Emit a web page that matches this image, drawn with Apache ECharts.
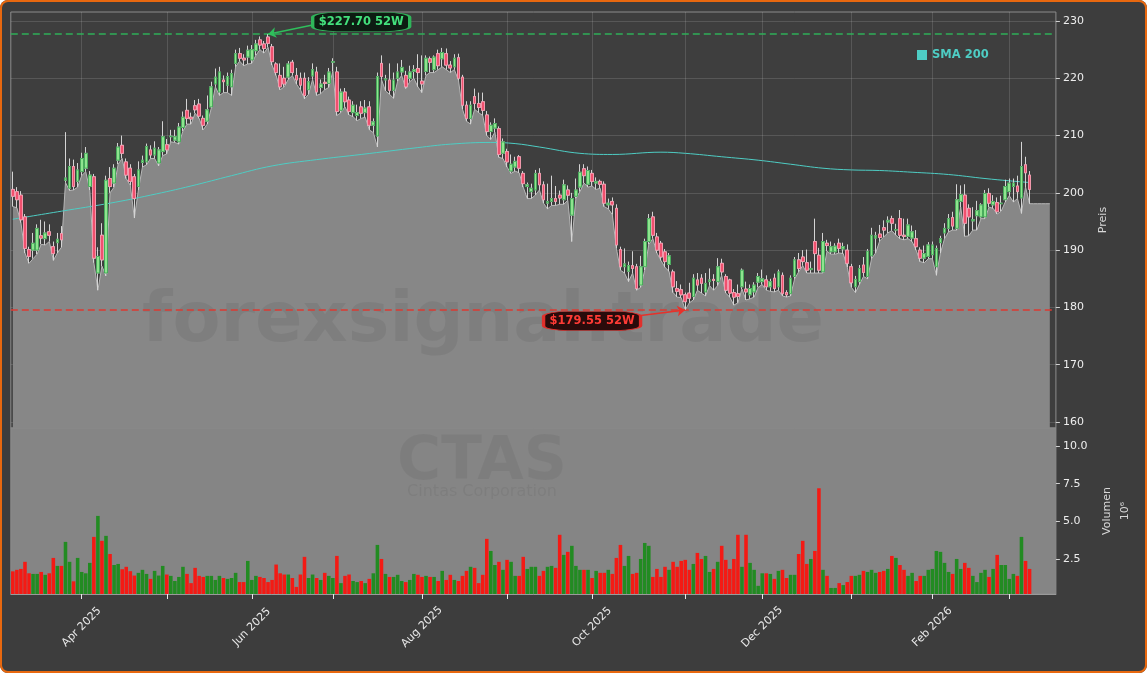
<!DOCTYPE html>
<html>
<head>
<meta charset="utf-8">
<title>CTAS</title>
<script src="https://cdn.jsdelivr.net/npm/echarts@6/dist/echarts.min.js"></script>
<style>
  html, body { margin: 0; padding: 0; background: #ffffff; }
  #wrap { position: relative; width: 1147px; height: 673px; }
  #chart { position: absolute; left: 0; top: 0; width: 1147px; height: 673px; border-radius: 8px; overflow: hidden; }
  #frame { position: absolute; left: 0; top: 0; width: 1147px; height: 673px; box-sizing: border-box;
           border: 2px solid #e8680f; border-radius: 8px; pointer-events: none; }
</style>
</head>
<body>
<div id="wrap">
  <div id="chart"></div>
  <div id="frame"></div>
</div>
<script>
// Kursdaten, ein Eintrag pro Handelstag ab 07.03.2025
const opens = [
  200.6, 200.2, 199.6, 195.8, 190.1, 190.0, 190.0, 192.5, 192.0, 193.2,
  190.6, 191.3, 192.9, 202.2, 200.8, 204.6, 202.0, 203.7, 204.3, 201.1,
  202.8, 186.0, 192.6, 186.0, 202.5, 201.7, 205.7, 208.3, 205.4, 204.3,
  202.8, 201.1, 205.3, 205.4, 207.5, 206.6, 205.2, 207.2, 208.4, 209.8,
  209.2, 208.9, 211.4, 214.4, 213.2, 215.2, 215.5, 213.0, 212.5, 215.0,
  219.0, 217.6, 219.7, 218.8, 218.5, 222.6, 224.3, 223.5, 223.7, 223.2,
  224.8, 226.7, 226.0, 227.2, 225.5, 222.5, 220.5, 220.0, 220.2, 222.8,
  220.5, 220.0, 220.0, 218.0, 220.4, 221.1, 218.4, 219.3, 219.1, 222.8,
  221.1, 214.4, 217.6, 216.2, 214.0, 213.5, 215.0, 214.0, 215.0, 211.8,
  209.9, 222.6, 219.7, 219.7, 217.9, 220.0, 221.1, 220.5, 220.0, 221.2,
  221.7, 219.5, 221.2, 223.4, 221.5, 224.3, 223.4, 224.3, 222.3, 222.0,
  223.6, 220.2, 215.3, 213.0, 216.8, 215.6, 215.9, 213.6, 210.7, 211.3,
  211.2, 206.9, 207.2, 203.8, 204.5, 206.3, 203.4, 201.1, 200.2, 200.5,
  203.4, 201.4, 198.2, 198.5, 199.0, 199.6, 198.8, 200.5, 196.1, 199.4,
  201.0, 204.2, 201.5, 203.4, 201.7, 202.0, 201.5, 197.9, 198.5, 197.3,
  190.1, 187.1, 186.3, 187.3, 187.1, 183.9, 187.1, 191.5, 195.8, 192.3,
  191.2, 189.7, 187.5, 186.2, 183.3, 183.1, 182.2, 182.5, 181.9, 184.8,
  185.1, 182.7, 184.5, 184.9, 184.5, 187.7, 185.4, 184.8, 182.6, 182.4,
  183.6, 183.2, 182.2, 182.7, 184.4, 184.5, 184.8, 183.6, 185.1, 183.6,
  185.6, 182.6, 182.4, 185.4, 188.3, 188.8, 187.8, 186.6, 191.5, 189.1,
  186.2, 191.2, 189.7, 189.7, 191.2, 190.2, 190.0, 187.1, 183.6, 184.5,
  187.4, 185.4, 189.0, 192.1, 192.8, 193.9, 194.9, 195.5, 193.5, 195.5,
  192.6, 192.4, 192.1, 192.0, 190.0, 188.6, 188.9, 189.2, 187.1, 191.3,
  193.0, 193.8, 195.7, 193.8, 198.5, 199.6, 197.3, 195.1, 196.0, 195.8,
  195.8, 199.9, 197.9, 198.3, 198.1, 198.8, 200.2, 201.1, 201.2, 199.1,
  204.9, 203.1
];
const closes = [
  199.4, 198.8, 195.3, 190.3, 188.9, 191.2, 193.8, 192.1, 193.0, 192.6,
  189.4, 191.9, 191.8, 202.6, 204.6, 201.1, 204.0, 206.0, 206.9, 203.1,
  188.6, 188.9, 188.3, 202.2, 201.1, 204.3, 208.0, 206.9, 203.1, 202.0,
  199.0, 204.0, 205.7, 208.1, 206.6, 207.8, 207.5, 209.8, 207.5, 209.9,
  209.8, 211.5, 213.2, 213.0, 212.9, 214.5, 213.4, 211.8, 214.5, 218.5,
  220.2, 221.1, 219.4, 220.3, 220.8, 224.3, 223.5, 223.2, 224.9, 225.0,
  226.0, 225.8, 225.2, 226.1, 222.9, 221.0, 218.5, 219.0, 222.5, 221.0,
  219.7, 218.8, 217.0, 219.4, 221.5, 217.6, 219.0, 219.1, 221.1, 222.9,
  214.2, 217.6, 215.9, 214.2, 215.3, 214.0, 213.9, 214.8, 211.8, 212.4,
  220.3, 220.3, 219.9, 217.9, 219.7, 221.1, 221.9, 218.5, 221.1, 221.5,
  221.0, 219.0, 223.5, 222.8, 223.7, 222.2, 224.5, 222.3, 221.8, 223.5,
  220.0, 215.3, 213.0, 215.3, 215.6, 214.9, 214.4, 210.7, 211.8, 212.1,
  206.7, 208.9, 205.4, 205.0, 205.5, 204.3, 201.6, 201.4, 200.8, 203.4,
  201.4, 198.8, 198.5, 199.0, 198.5, 199.1, 201.4, 199.6, 199.0, 200.5,
  203.6, 203.0, 203.9, 202.0, 202.0, 201.5, 198.2, 198.2, 197.9, 190.9,
  187.1, 187.6, 187.3, 186.8, 183.3, 187.1, 191.5, 195.5, 192.6, 190.0,
  188.8, 188.0, 189.0, 183.6, 182.8, 182.2, 181.0, 181.6, 185.1, 183.9,
  184.2, 184.2, 184.8, 184.7, 187.1, 186.2, 183.0, 182.5, 181.8, 181.9,
  186.5, 182.7, 183.3, 183.9, 185.4, 185.0, 183.6, 184.5, 183.3, 186.2,
  182.4, 182.2, 185.1, 188.3, 186.8, 188.0, 186.5, 186.8, 189.4, 186.5,
  191.5, 190.8, 190.6, 190.7, 190.3, 190.6, 187.7, 184.3, 184.9, 186.8,
  186.1, 189.8, 192.6, 192.5, 192.2, 193.5, 195.2, 194.7, 193.6, 192.6,
  192.4, 194.4, 193.2, 190.6, 188.6, 189.4, 190.9, 190.9, 190.3, 192.0,
  193.8, 195.5, 194.2, 198.8, 199.7, 194.7, 195.8, 195.3, 196.9, 197.9,
  199.9, 198.2, 198.5, 196.7, 198.2, 201.1, 201.7, 201.7, 200.2, 204.6,
  203.5, 200.6
];
const highs = [
  203.7, 201.0, 200.3, 196.3, 190.6, 193.0, 194.5, 195.3, 195.0, 194.5,
  191.5, 193.0, 194.2, 210.6, 206.0, 205.8, 205.2, 207.0, 208.0, 203.8,
  203.3, 190.5, 194.7, 203.0, 204.5, 205.0, 208.7, 210.0, 206.0, 205.0,
  203.3, 205.5, 206.5, 208.6, 208.3, 209.0, 208.0, 212.5, 209.4, 211.0,
  211.0, 212.2, 214.2, 216.4, 214.0, 216.2, 216.4, 213.5, 217.0, 219.4,
  221.7, 222.0, 220.5, 221.0, 221.5, 225.0, 225.3, 224.2, 225.7, 225.8,
  226.7, 227.3, 226.5, 227.7, 226.0, 222.8, 222.6, 222.0, 223.0, 223.2,
  221.8, 221.0, 221.0, 220.2, 222.6, 222.0, 219.8, 220.6, 221.8, 223.5,
  222.0, 218.2, 218.3, 216.8, 216.0, 215.4, 216.0, 216.2, 216.0, 213.0,
  221.0, 224.0, 220.6, 222.6, 221.0, 222.6, 223.2, 221.3, 222.2, 222.3,
  224.2, 224.0, 224.0, 223.8, 224.0, 225.0, 225.3, 225.2, 223.0, 224.2,
  224.3, 220.6, 216.0, 216.0, 218.2, 217.5, 217.5, 214.3, 212.3, 213.0,
  211.6, 209.5, 207.7, 206.7, 206.3, 206.6, 203.8, 201.8, 201.6, 204.0,
  204.3, 202.0, 201.6, 203.0, 201.2, 200.4, 202.3, 201.3, 200.0, 202.5,
  205.0, 205.0, 204.6, 204.0, 202.7, 202.3, 202.0, 199.0, 199.2, 198.0,
  190.6, 190.3, 188.0, 189.8, 187.6, 189.0, 192.0, 196.3, 196.7, 193.0,
  191.6, 190.2, 189.5, 186.6, 184.6, 184.0, 182.6, 184.3, 185.8, 186.0,
  185.8, 186.0, 186.8, 185.8, 188.6, 188.5, 185.8, 185.0, 183.2, 184.0,
  186.8, 184.5, 184.0, 184.4, 186.0, 186.6, 185.6, 185.0, 185.9, 186.6,
  186.1, 183.0, 185.6, 188.8, 189.5, 190.0, 190.1, 188.0, 195.5, 190.4,
  193.0, 191.8, 191.5, 191.2, 192.0, 191.3, 191.0, 187.6, 185.5, 187.4,
  188.8, 190.2, 193.9, 193.2, 194.4, 195.2, 195.9, 196.0, 194.6, 197.0,
  195.5, 195.5, 194.3, 193.5, 190.5, 190.8, 191.4, 191.5, 190.8, 192.5,
  194.7, 196.3, 196.7, 201.5, 201.3, 201.5, 198.0, 197.5, 198.6, 198.2,
  200.5, 200.8, 199.6, 199.2, 199.5, 202.3, 202.5, 202.5, 203.0, 208.9,
  206.3, 203.8
];
const lows = [
  197.6, 197.4, 194.8, 189.5, 187.7, 188.5, 189.3, 191.0, 190.9, 191.5,
  188.2, 189.5, 190.5, 201.8, 200.4, 200.5, 201.0, 203.0, 203.7, 200.5,
  187.8, 183.0, 187.2, 185.5, 200.0, 201.0, 205.0, 206.0, 202.5, 201.3,
  195.6, 200.5, 204.5, 204.9, 206.0, 206.0, 204.7, 206.5, 206.8, 208.9,
  208.8, 208.5, 210.8, 212.0, 212.0, 213.9, 213.0, 211.0, 212.0, 214.8,
  218.5, 217.0, 217.5, 217.5, 217.0, 222.0, 223.0, 222.2, 222.5, 222.6,
  224.0, 225.0, 224.4, 225.4, 222.3, 220.5, 218.0, 218.5, 219.8, 220.5,
  219.0, 218.0, 216.4, 217.2, 219.8, 217.0, 217.3, 218.0, 218.4, 221.2,
  213.5, 214.0, 215.0, 213.6, 213.3, 212.6, 213.0, 213.2, 211.0, 210.5,
  208.0, 219.8, 217.8, 217.2, 216.5, 219.5, 220.5, 218.2, 219.4, 220.0,
  218.5, 217.5, 220.5, 221.0, 221.0, 221.5, 222.0, 221.5, 221.0, 221.5,
  219.7, 214.6, 212.5, 212.0, 214.6, 214.0, 213.5, 210.0, 209.3, 210.6,
  206.2, 206.0, 204.5, 203.4, 203.8, 203.5, 201.0, 199.0, 199.0, 199.6,
  200.5, 198.2, 197.2, 197.8, 197.8, 198.0, 198.0, 198.7, 191.5, 199.0,
  200.2, 201.7, 201.0, 201.2, 200.6, 200.8, 197.6, 197.2, 196.2, 190.3,
  186.5, 186.0, 184.5, 186.0, 183.0, 183.5, 186.5, 191.0, 192.0, 189.5,
  188.2, 187.0, 186.3, 182.6, 181.8, 181.7, 179.55, 180.8, 181.3, 183.0,
  182.5, 182.0, 183.8, 183.0, 183.8, 185.6, 182.5, 181.8, 180.4, 180.8,
  183.2, 181.3, 181.5, 181.8, 183.5, 184.0, 183.0, 182.8, 182.7, 183.0,
  182.0, 181.8, 182.0, 185.0, 186.2, 187.3, 186.0, 186.0, 186.0, 186.0,
  186.0, 189.8, 189.3, 189.3, 189.5, 189.4, 187.0, 183.5, 182.6, 184.0,
  185.4, 185.0, 188.5, 189.5, 191.6, 192.3, 193.0, 193.4, 192.6, 192.0,
  191.8, 192.0, 191.5, 190.0, 188.0, 187.8, 188.5, 188.5, 185.6, 189.5,
  192.0, 193.2, 193.5, 193.5, 197.5, 192.4, 192.5, 193.5, 193.5, 195.5,
  195.5, 197.5, 197.3, 196.3, 196.8, 198.4, 199.5, 198.4, 199.0, 196.4,
  201.0, 198.1
];
// Volumen in Mio. Stück
const volumes = [
  1.70, 1.80, 1.86, 2.33, 1.57, 1.53, 1.53, 1.66, 1.47, 1.57,
  2.59, 2.06, 2.06, 3.65, 2.33, 1.04, 2.59, 1.66, 1.57, 2.26,
  3.98, 5.37, 3.72, 4.05, 2.85, 2.12, 2.19, 1.84, 2.00, 1.71,
  1.42, 1.60, 1.80, 1.53, 1.20, 1.73, 1.42, 2.06, 1.49, 1.40,
  1.06, 1.33, 2.00, 1.53, 0.92, 1.93, 1.40, 1.33, 1.40, 1.40,
  1.13, 1.40, 1.26, 1.20, 1.26, 1.60, 0.99, 0.99, 2.39, 1.13,
  1.40, 1.33, 1.26, 0.99, 1.13, 2.15, 1.57, 1.49, 1.49, 1.26,
  0.67, 1.49, 2.66, 1.26, 1.49, 1.26, 1.13, 1.60, 1.40, 1.26,
  2.72, 0.92, 1.40, 1.49, 1.06, 0.99, 1.06, 0.92, 1.20, 1.57,
  3.45, 2.52, 1.53, 1.33, 1.33, 1.47, 1.06, 0.99, 1.13, 1.53,
  1.47, 1.33, 1.40, 1.33, 1.33, 1.06, 1.73, 1.13, 1.47, 1.13,
  1.06, 1.40, 1.73, 2.00, 1.93, 0.92, 1.47, 3.85, 3.05, 2.12,
  2.33, 1.80, 2.46, 2.33, 1.40, 1.40, 2.66, 1.86, 2.00, 2.00,
  1.40, 1.73, 2.00, 2.06, 1.93, 4.12, 2.79, 2.99, 3.39, 2.06,
  1.80, 1.80, 1.80, 1.26, 1.73, 1.60, 1.60, 1.80, 1.53, 2.59,
  3.45, 2.06, 2.72, 1.53, 1.60, 2.52, 3.58, 3.39, 1.33, 1.86,
  1.33, 2.00, 1.80, 2.33, 2.00, 2.39, 2.46, 1.80, 2.19, 2.92,
  2.52, 2.72, 1.66, 1.86, 2.33, 3.39, 2.46, 1.86, 2.52, 4.12,
  2.00, 4.12, 2.26, 1.80, 0.74, 1.57, 1.57, 1.53, 1.20, 1.73,
  1.80, 1.26, 1.47, 1.47, 2.85, 3.72, 2.19, 2.52, 3.05, 7.20,
  1.80, 1.40, 0.60, 0.60, 0.92, 0.79, 0.99, 1.40, 1.40, 1.47,
  1.73, 1.66, 1.80, 1.60, 1.66, 1.73, 1.86, 2.72, 2.59, 2.12,
  1.80, 1.40, 1.60, 1.06, 1.40, 1.40, 1.80, 1.86, 3.05, 2.99,
  2.26, 1.66, 1.53, 2.52, 1.86, 2.26, 1.93, 1.40, 0.99, 1.60,
  1.80, 1.33, 1.86, 2.79, 2.12, 2.12, 1.20, 1.53, 1.40, 3.98,
  2.39, 1.86
];
// Flaechenlinie laeuft nach dem letzten Kerzentag noch ein Stueck weiter
const tailLows = [198.1, 198.1, 198.1, 198.1, 198.1];
// SMA 200: [Handelstag-Index, Wert]
const smaPoints = [
  [0, 195.4], [12, 196.8], [24, 198.2], [34, 199.6], [44, 201.2], [54, 203.0],
  [64, 204.7], [75, 205.8], [86, 206.7], [100, 207.9], [108, 208.5], [118, 208.8],
  [124, 208.6], [130, 208.0], [140, 206.9], [148, 206.7], [160, 207.1], [166, 206.9],
  [175, 206.3], [184, 205.7], [192, 205.0], [200, 204.3], [207, 204.0], [214, 203.9],
  [222, 203.6], [231, 203.2], [240, 202.5], [246, 202.1], [251, 201.8]
];
const high52 = 227.70;
const low52 = 179.55;
const priceTicks = [160, 170, 180, 190, 200, 210, 220, 230];
const volumeTicks = [2.5, 5.0, 7.5, 10.0];
const firstDay = '2025-03-07';
const holidays = ['2025-04-18', '2025-05-26', '2025-06-19', '2025-07-04', '2025-09-01',
                  '2025-11-27', '2025-12-25', '2026-01-01', '2026-01-19', '2026-02-16'];
const monthNames = ['Jan', 'Feb', 'Mar', 'Apr', 'May', 'Jun', 'Jul', 'Aug', 'Sep', 'Oct', 'Nov', 'Dec'];
const padSlots = ['p1', 'p2', 'p3', 'p4', 'p5', 'p6'];

// Farben
const wickColor = '#d4d4d4';
const upFill = '#8fe48f', upEdge = '#2e9e46';
const downFill = '#f0506e', downEdge = '#f59aae';
const volUp = '#228b22', volDown = '#f41a14';
const smaColor = '#4ecdc4';
const font = '"DejaVu Sans", sans-serif';

// Handelstage (Wochenende + Feiertage ausgelassen)
const dates = [];
const day = new Date(firstDay + 'T00:00:00Z');
while (dates.length < closes.length) {
  const iso = day.toISOString().slice(0, 10);
  const wd = day.getUTCDay();
  if (wd !== 0 && wd !== 6 && !holidays.includes(iso)) dates.push(iso);
  day.setUTCDate(day.getUTCDate() + 1);
}
const categories = dates.concat(padSlots);

function isMonthStart(i) {
  return i > 0 && i < dates.length && dates[i].slice(0, 7) !== dates[i - 1].slice(0, 7);
}
function isLabelMonth(i) {
  return isMonthStart(i) && Number(dates[i].slice(5, 7)) % 2 === 0;
}
const monthStarts = dates.filter((d, i) => isMonthStart(i));

const candles = opens.map((o, i) => [o, closes[i], lows[i], highs[i]]);
const bodies = opens.map((o, i) => [o, closes[i], Math.min(o, closes[i]), Math.max(o, closes[i])]);
const volumeBars = volumes.map((v, i) => ({
  value: v,
  itemStyle: { color: closes[i] >= opens[i] ? volUp : volDown }
}));

const hiIdx = highs.indexOf(Math.max(...highs));
const loIdx = lows.indexOf(Math.min(...lows));

const gridLine = { color: 'rgba(255,255,255,0.13)', width: 1, type: 'solid' };

const option = {
  animation: false,
  backgroundColor: '#3d3d3d',
  textStyle: { fontFamily: font },
  grid: [
    { left: 10.8, top: 12, width: 1045.1, height: 416, show: true,
      backgroundColor: '#3e3e3e', borderColor: '#8c8c8c', borderWidth: 1 },
    { left: 10.8, top: 428, width: 1045.1, height: 166, show: true,
      backgroundColor: '#858585', borderColor: '#8c8c8c', borderWidth: 1 }
  ],
  legend: {
    data: ['SMA 200'], left: 912, top: 44, icon: 'rect', itemWidth: 10, itemHeight: 10,
    itemGap: 5, selectedMode: false,
    textStyle: { color: smaColor, fontWeight: 'bold', fontSize: 11.5, fontFamily: font }
  },
  xAxis: [
    { type: 'category', gridIndex: 0, data: categories, boundaryGap: true,
      axisLine: { show: false }, axisTick: { show: false }, axisLabel: { show: false },
      splitLine: { show: false } },
    { type: 'category', gridIndex: 1, data: categories, boundaryGap: true,
      axisLine: { show: true, lineStyle: { color: '#9a9a9a' } },
      axisTick: { show: true, alignWithLabel: true, interval: (i) => isMonthStart(i), length: 5,
                  lineStyle: { color: '#e8e8e8' } },
      axisLabel: {
        interval: (i) => isLabelMonth(i), rotate: 45, align: 'center', verticalAlign: 'middle',
        margin: 33, color: '#e8e8e8', fontSize: 11, fontFamily: font,
        formatter: (v) => monthNames[Number(v.slice(5, 7)) - 1] + ' ' + v.slice(0, 4)
      },
      splitLine: { show: false } }
  ],
  yAxis: [
    { type: 'value', gridIndex: 0, position: 'right', min: 158.95, max: 231.57,
      axisLine: { show: false },
      axisTick: { show: true, customValues: priceTicks, length: 4, lineStyle: { color: '#d0d0d0' } },
      axisLabel: { customValues: priceTicks, color: '#ededed', fontSize: 11, margin: 7, fontFamily: font },
      splitLine: { show: false },
      name: 'Preis', nameLocation: 'middle', nameRotate: 90, nameGap: 42,
      nameTextStyle: { color: '#d8d8d8', fontSize: 11, fontFamily: font } },
    { type: 'value', gridIndex: 1, position: 'right', min: 0.2, max: 11.19,
      axisLine: { show: false },
      axisTick: { show: true, customValues: volumeTicks, length: 4, lineStyle: { color: '#d0d0d0' } },
      axisLabel: { customValues: volumeTicks, color: '#ededed', fontSize: 11, margin: 7, fontFamily: font,
                   formatter: (v) => v.toFixed(1) },
      splitLine: { show: false },
      name: 'Volumen\n10⁶', nameLocation: 'middle', nameRotate: 90, nameGap: 42,
      nameTextStyle: { color: '#d8d8d8', fontSize: 11, fontFamily: font, lineHeight: 18, align: 'center' } }
  ],
  graphic: [
    { type: 'text', x: 483, y: 323, z: 3, silent: true,
      style: { text: 'forexsignal.trade', fill: 'rgba(0,0,0,0.065)', font: 'bold 70px "DejaVu Sans"',
               align: 'center', verticalAlign: 'middle' } },
    { type: 'text', x: 482, y: 463, z: 3, silent: true,
      style: { text: 'CTAS', fill: 'rgba(0,0,0,0.055)', font: 'bold 60px "DejaVu Sans"',
               align: 'center', verticalAlign: 'middle' } },
    { type: 'text', x: 482, y: 492, z: 3, silent: true,
      style: { text: 'Cintas Corporation', fill: 'rgba(0,0,0,0.055)', font: '16px "DejaVu Sans"',
               align: 'center', verticalAlign: 'middle' } }
  ],
  series: [
    {
      name: 'Tief', type: 'line', xAxisIndex: 0, yAxisIndex: 0, z: 2, silent: true,
      data: lows.concat(tailLows), symbol: 'none',
      lineStyle: { color: '#b8b8b8', width: 1 },
      areaStyle: { color: '#878787', opacity: 1, origin: 'start' },
      markLine: {
        z: 1, silent: true, symbol: 'none', label: { show: false }, lineStyle: gridLine,
        data: priceTicks.map((v) => ({ yAxis: v })).concat(monthStarts.map((d) => ({ xAxis: d })))
      }
    },
    {
      name: 'SMA 200', type: 'line', xAxisIndex: 0, yAxisIndex: 0, z: 4,
      data: smaPoints, smooth: 0.4, symbol: 'none', showSymbol: false,
      lineStyle: { color: smaColor, width: 1 }, itemStyle: { color: smaColor },
      markLine: {
        z: 4, silent: true, symbol: 'none', label: { show: false },
        data: [
          { yAxis: high52, lineStyle: { color: '#2fae58', width: 1.5, type: [7, 4] } },
          { yAxis: low52, lineStyle: { color: '#dd3a32', width: 1.5, type: [7, 4] } }
        ]
      }
    },
    {
      name: 'Docht', type: 'candlestick', xAxisIndex: 0, yAxisIndex: 0, z: 5,
      data: candles, barWidth: 3.2,
      itemStyle: { color: wickColor, color0: wickColor, borderColor: wickColor, borderColor0: wickColor, borderWidth: 1 },
      markLine: {
        z: 8, silent: true, symbol: ['none', 'arrow'], symbolSize: 8, label: { show: false },
        data: [
          [{ coord: [hiIdx + 11, high52 + 1.6], lineStyle: { color: '#2fbf5c', width: 1.5, type: 'solid' },
             itemStyle: { color: '#2fbf5c' } },
           { coord: [hiIdx, high52] }],
          [{ coord: [loIdx - 12, low52 - 1.05], lineStyle: { color: '#e8312a', width: 1.5, type: 'solid' },
             itemStyle: { color: '#e8312a' } },
           { coord: [loIdx, low52] }]
        ]
      },
      markPoint: {
        z: 9, silent: true,
        data: [
          { coord: [hiIdx + 23, high52 + 2.13], symbol: 'roundRect', symbolSize: [97, 19],
            itemStyle: { color: '#0d1c12', borderColor: '#2fb55a', borderWidth: 1.5 },
            label: { show: true, formatter: '$' + high52.toFixed(2) + ' 52W', color: '#43e07c',
                     fontWeight: 'bold', fontSize: 11.5, fontFamily: font } },
          { coord: [loIdx - 23, low52 - 1.92], symbol: 'roundRect', symbolSize: [97, 19],
            itemStyle: { color: '#2a0b0b', borderColor: '#e0302c', borderWidth: 1.5 },
            label: { show: true, formatter: '$' + low52.toFixed(2) + ' 52W', color: '#ff3b35',
                     fontWeight: 'bold', fontSize: 11.5, fontFamily: font } }
        ]
      }
    },
    {
      name: 'Koerper', type: 'candlestick', xAxisIndex: 0, yAxisIndex: 0, z: 6,
      data: bodies, barWidth: 3.2,
      itemStyle: { color: upFill, color0: downFill, borderColor: upEdge, borderColor0: downEdge, borderWidth: 0.8 }
    },
    {
      name: 'Volumen', type: 'bar', xAxisIndex: 1, yAxisIndex: 1, z: 2,
      data: volumeBars, barWidth: '88%'
    }
  ]
};

const chart = echarts.init(document.getElementById('chart'));
chart.setOption(option);
window.addEventListener('resize', () => chart.resize());
</script>
</body>
</html>
